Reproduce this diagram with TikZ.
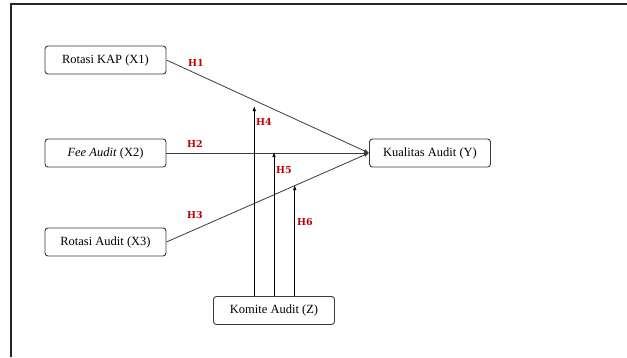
\documentclass[tikz,border=0pt]{standalone}
\usepackage{fontspec}
\setmainfont{Liberation Serif}
\newfontfamily\hfont{DejaVu Serif}
\usetikzlibrary{arrows.meta}
\definecolor{hred}{HTML}{C00000}
\definecolor{edge}{HTML}{3A3A3A}
\tikzset{
  var/.style={draw=edge, line width=0.9pt, rounded corners=3pt, minimum width=121pt, minimum height=28pt, inner sep=0pt, font=\fontsize{12.5}{14}\selectfont, fill=white},
  arr/.style={-{Latex[length=5pt,width=4pt]}, draw=edge, line width=0.8pt},
  mod/.style={-{Latex[length=5pt,width=3.5pt]}, draw=black, line width=0.7pt},
  hyp/.style={text=hred, font=\hfont\bfseries\fontsize{9.5}{11}\selectfont, inner sep=0pt}
}
\begin{document}
\begin{tikzpicture}[x=1pt,y=-1pt]
\useasboundingbox (0,0) rectangle (627,357);
\draw[line width=1.8pt, draw=black!85] (11,357) -- (11,4) -- (627,4);
\node[var] (x1) at (105.5,60) {Rotasi KAP (X1)};
\node[var] (x2) at (105.5,153) {\textit{Fee Audit} (X2)};
\node[var] (x3) at (105.5,242) {Rotasi Audit (X3)};
\node[var] (y) at (430,153) {Kualitas Audit (Y)};
\node[var] (z) at (274,310.5) {Komite Audit (Z)};
\draw[arr] (x1.east) -- (y.west);
\draw[arr] (x2.east) -- (y.west);
\draw[arr] (x3.east) -- (y.west);
\coordinate (m4) at (254.3,106);
\coordinate (m5) at (274,152);
\coordinate (m6) at (294.7,185);
\draw[mod] (m4 |- z.north) -- (m4);
\draw[mod] (m5 |- z.north) -- (m5);
\draw[mod] (m6 |- z.north) -- (m6);
\node[hyp] (h1) at (196,62.5) {H1};
\node[hyp] (h2) at (195,144) {H2};
\node[hyp] (h3) at (195,215) {H3};
\node[hyp] (h4) at (264,122) {H4};
\node[hyp] (h5) at (284,170) {H5};
\node[hyp] (h6) at (305,222) {H6};
\end{tikzpicture}
\end{document}
